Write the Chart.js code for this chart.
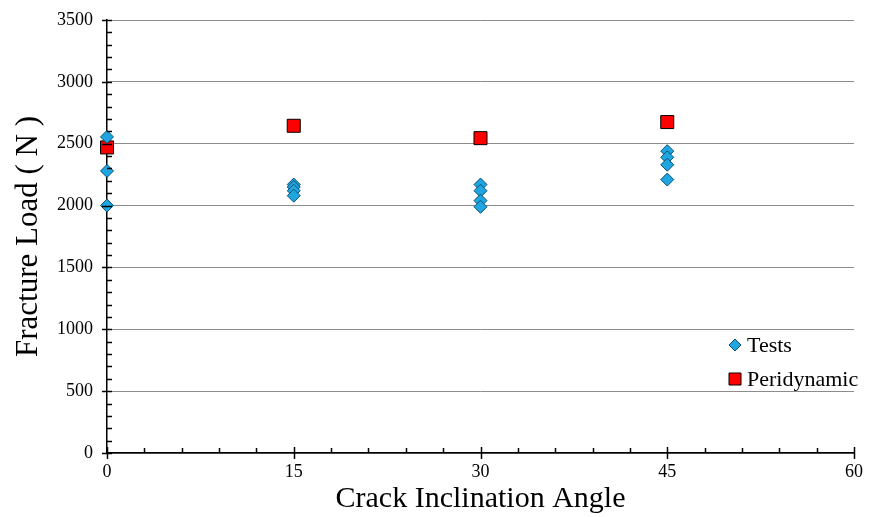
<!DOCTYPE html>
<html lang="en">
<head>
  <meta charset="utf-8">
  <title>Fracture Load vs Crack Inclination Angle</title>
  <style type="text/css">
    body { margin: 0; background: #ffffff; }
    #wrap { width: 878px; height: 517px; }
  </style>
  <script src="https://cdn.jsdelivr.net/npm/chart.js@4/dist/chart.umd.min.js"></script>
</head>
<body>
  <div id="wrap"><canvas id="graph" width="878" height="517"></canvas></div>
  <script>
    // data
    var testAngles = [0, 0, 0, 15, 15, 15, 15, 30, 30, 30, 30, 45, 45, 45, 45];
    var testLoads  = [2555, 2280, 2000, 2170, 2150, 2120, 2080, 2170, 2120, 2040, 1990, 2440, 2390, 2330, 2210];
    var pdAngles = [0, 15, 30, 45];
    var pdLoads  = [2470, 2645, 2545, 2675];
    var xTicks = [0, 15, 30, 45, 60];
    var yTicks = [0, 500, 1000, 1500, 2000, 2500, 3000, 3500];

    var serif = "'Liberation Serif', 'Times New Roman', serif";

    function toPoints(xs, ys) {
      var pts = [];
      for (var i = 0; i < xs.length; i++) {
        pts.push({x: xs[i], y: ys[i]});
      }
      return pts;
    }

    // tick marks: major cross the axis, minor only on the inside
    var tickPlugin = {
      id: 'ticks',
      afterDatasetsDraw: function (chart) {
        var ctx = chart.ctx;
        var xs = chart.scales.x, ys = chart.scales.y;
        var area = chart.chartArea;
        ctx.save();
        ctx.strokeStyle = '#000';
        ctx.lineWidth = 1.5;
        var v, p;
        for (v = 0; v <= 3500; v += 100) {
          p = Math.round(ys.getPixelForValue(v)) + 0.5;
          ctx.beginPath();
          if (v % 500 === 0) {
            ctx.moveTo(area.left - 5, p); ctx.lineTo(area.left + 5, p);
          } else {
            ctx.moveTo(area.left, p); ctx.lineTo(area.left + 5, p);
          }
          ctx.stroke();
        }
        for (v = 0; v <= 60; v += 3) {
          p = Math.round(xs.getPixelForValue(v)) + 0.5;
          ctx.beginPath();
          if (v % 15 === 0) {
            ctx.moveTo(p, area.bottom + 6); ctx.lineTo(p, area.bottom - 6);
          } else {
            ctx.moveTo(p, area.bottom); ctx.lineTo(p, area.bottom - 5);
          }
          ctx.stroke();
        }
        ctx.restore();
      }
    };

    // legend inside the plot, built from the datasets
    var legendPlugin = {
      id: 'innerLegend',
      afterDraw: function (chart) {
        var ctx = chart.ctx;
        var x0 = 735, y0 = 345, gap = 34;
        ctx.save();
        chart.data.datasets.forEach(function (ds, i) {
          var y = y0 + i * gap;
          ctx.fillStyle = ds.backgroundColor;
          ctx.strokeStyle = ds.borderColor;
          ctx.lineWidth = ds.borderWidth;
          ctx.beginPath();
          if (ds.pointStyle === 'rect') {
            var r = 6;
            ctx.rect(x0 - r, y - r, 2 * r, 2 * r);
          } else {
            var d = 6;
            ctx.moveTo(x0, y - d); ctx.lineTo(x0 + d, y); ctx.lineTo(x0, y + d); ctx.lineTo(x0 - d, y);
            ctx.closePath();
          }
          ctx.fill();
          ctx.stroke();
          ctx.fillStyle = '#000';
          ctx.font = '22px ' + serif;
          ctx.textAlign = 'left';
          ctx.textBaseline = 'middle';
          ctx.fillText(ds.label, x0 + 12, y + 1);
        });
        ctx.restore();
      }
    };

    var ctx = document.getElementById('graph').getContext('2d');
    window.myChart = new Chart(ctx, {
      type: 'scatter',
      data: {
        datasets: [
          {
            label: 'Tests',
            data: toPoints(testAngles, testLoads),
            pointStyle: 'rectRot',
            pointRadius: 6.5,
            backgroundColor: '#1fa6e0',
            borderColor: '#0b4f73',
            borderWidth: 1,
            clip: false
          },
          {
            label: 'Peridynamic',
            data: toPoints(pdAngles, pdLoads),
            pointStyle: 'rect',
            pointRadius: 9.2,
            backgroundColor: '#ff0000',
            borderColor: '#000000',
            borderWidth: 1,
            clip: false
          }
        ]
      },
      options: {
        responsive: false,
        animation: false,
        layout: { padding: { top: 20, right: 24, left: 0, bottom: 0 } },
        plugins: {
          legend: { display: false },
          tooltip: { enabled: false }
        },
        scales: {
          x: {
            type: 'linear',
            min: 0,
            max: 60,
            afterBuildTicks: function (axis) {
              axis.ticks = xTicks.map(function (v) { return {value: v}; });
            },
            afterFit: function (axis) {
              axis.height = 64;
              axis.paddingLeft = 0;
              axis.paddingRight = 0;
            },
            grid: { display: false, drawTicks: false },
            border: { display: true, color: '#000', width: 1.5 },
            ticks: {
              color: '#000',
              padding: 8,
              maxRotation: 0,
              font: { family: serif, size: 18 },
              callback: function (v) { return String(v); }
            },
            title: {
              display: true,
              text: 'Crack Inclination Angle',
              color: '#000',
              padding: { top: 2, bottom: 0 },
              font: { family: serif, size: 30 }
            }
          },
          y: {
            type: 'linear',
            min: 0,
            max: 3500,
            afterBuildTicks: function (axis) {
              axis.ticks = yTicks.map(function (v) { return {value: v}; });
            },
            afterFit: function (axis) {
              axis.width = 107;
              axis.paddingTop = 0;
              axis.paddingBottom = 0;
            },
            grid: { color: '#8c8c8c', lineWidth: 1, drawTicks: false },
            border: { display: true, color: '#000', width: 1.5 },
            ticks: {
              color: '#000',
              padding: 14,
              font: { family: serif, size: 18 },
              callback: function (v) { return String(v); }
            },
            title: {
              display: true,
              text: 'Fracture Load ( N )',
              color: '#000',
              padding: { top: 10, bottom: 0 },
              font: { family: serif, size: 31 }
            }
          }
        }
      },
      plugins: [tickPlugin, legendPlugin]
    });
  </script>
</body>
</html>
